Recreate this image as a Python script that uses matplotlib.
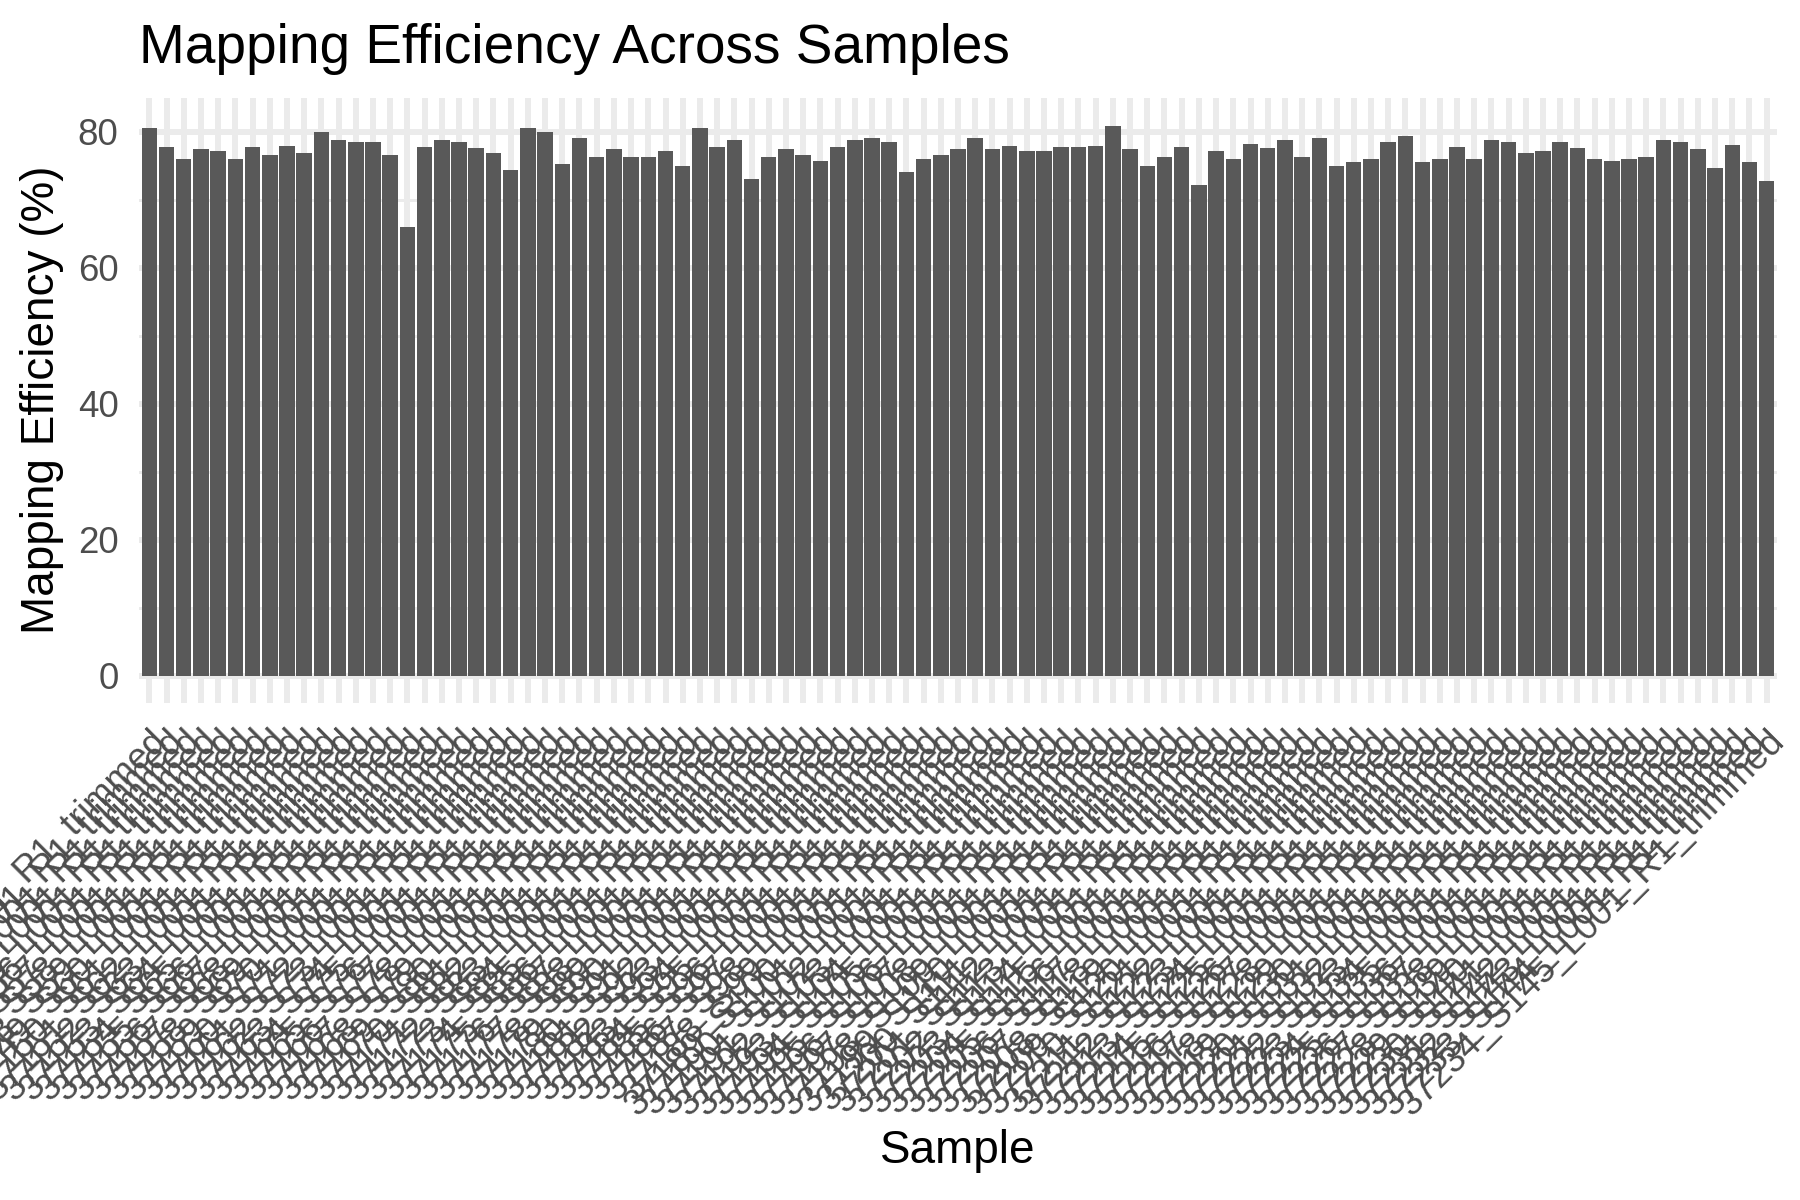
import matplotlib.pyplot as plt
from matplotlib.ticker import MultipleLocator

plt.rcParams['font.family'] = ['Liberation Sans', 'DejaVu Sans']

# mapping efficiency (%) per sample
efficiency = [
    80.6, 77.8, 75.9, 77.4, 77.2, 76.0, 77.8, 76.5, 77.9, 76.9,
    79.9, 78.8, 78.4, 78.5, 76.5, 65.9, 77.8, 78.8, 78.4, 77.6,
    76.9, 74.4, 80.6, 80.0, 75.3, 79.1, 76.2, 77.4, 76.3, 76.2,
    77.2, 75.0, 80.6, 77.8, 78.7, 73.1, 76.2, 77.5, 76.6, 75.7,
    77.8, 78.7, 79.0, 78.5, 74.0, 75.9, 76.5, 77.5, 79.1, 77.4,
    77.9, 77.2, 77.2, 77.8, 77.8, 77.9, 80.9, 77.5, 75.0, 76.3,
    77.8, 72.2, 77.1, 75.9, 78.2, 77.6, 78.8, 76.2, 79.1, 75.0,
    75.6, 76.0, 78.5, 79.4, 75.6, 75.9, 77.8, 75.9, 78.7, 78.4,
    76.8, 77.1, 78.5, 77.6, 75.9, 75.7, 75.9, 76.2, 78.8, 78.4,
    77.5, 74.7, 78.1, 75.6, 72.8,
]

samples = [
    "37140_S51_L001_R1_trimmed", "37141_S52_L001_R1_trimmed", "37142_S53_L001_R1_trimmed",
    "37143_S54_L001_R1_trimmed", "37144_S55_L001_R1_trimmed", "37145_S56_L001_R1_trimmed",
    "37146_S57_L001_R1_trimmed", "37147_S58_L001_R1_trimmed", "37148_S59_L001_R1_trimmed",
    "37149_S60_L001_R1_trimmed", "37150_S61_L001_R1_trimmed", "37151_S62_L001_R1_trimmed",
    "37152_S63_L001_R1_trimmed", "37153_S64_L001_R1_trimmed", "37154_S65_L001_R1_trimmed",
    "37155_S66_L001_R1_trimmed", "37156_S67_L001_R1_trimmed", "37157_S68_L001_R1_trimmed",
    "37158_S69_L001_R1_trimmed", "37159_S70_L001_R1_trimmed", "37160_S71_L001_R1_trimmed",
    "37161_S72_L001_R1_trimmed", "37162_S73_L001_R1_trimmed", "37163_S74_L001_R1_trimmed",
    "37164_S75_L001_R1_trimmed", "37165_S76_L001_R1_trimmed", "37166_S77_L001_R1_trimmed",
    "37167_S78_L001_R1_trimmed", "37168_S79_L001_R1_trimmed", "37169_S80_L001_R1_trimmed",
    "37170_S81_L001_R1_trimmed", "37171_S82_L001_R1_trimmed", "37172_S83_L001_R1_trimmed",
    "37173_S84_L001_R1_trimmed", "37174_S85_L001_R1_trimmed", "37175_S86_L001_R1_trimmed",
    "37176_S87_L001_R1_trimmed", "37177_S88_L001_R1_trimmed", "37178_S89_L001_R1_trimmed",
    "37179_S90_L001_R1_trimmed", "37180_S91_L001_R1_trimmed", "37181_S92_L001_R1_trimmed",
    "37182_S93_L001_R1_trimmed", "37183_S94_L001_R1_trimmed", "37184_S95_L001_R1_trimmed",
    "37185_S96_L001_R1_trimmed", "37186_S97_L001_R1_trimmed", "37187_S98_L001_R1_trimmed",
    "37188_S99_L001_R1_trimmed", "37189_S100_L001_R1_trimmed", "37190_S101_L001_R1_trimmed",
    "37191_S102_L001_R1_trimmed", "37192_S103_L001_R1_trimmed", "37193_S104_L001_R1_trimmed",
    "37194_S105_L001_R1_trimmed", "37195_S106_L001_R1_trimmed", "37196_S107_L001_R1_trimmed",
    "37197_S108_L001_R1_trimmed", "37198_S109_L001_R1_trimmed", "37199_S110_L001_R1_trimmed",
    "37200_S111_L001_R1_trimmed", "37201_S112_L001_R1_trimmed", "37202_S113_L001_R1_trimmed",
    "37203_S114_L001_R1_trimmed", "37204_S115_L001_R1_trimmed", "37205_S116_L001_R1_trimmed",
    "37206_S117_L001_R1_trimmed", "37207_S118_L001_R1_trimmed", "37208_S119_L001_R1_trimmed",
    "37209_S120_L001_R1_trimmed", "37210_S121_L001_R1_trimmed", "37211_S122_L001_R1_trimmed",
    "37212_S123_L001_R1_trimmed", "37213_S124_L001_R1_trimmed", "37214_S125_L001_R1_trimmed",
    "37215_S126_L001_R1_trimmed", "37216_S127_L001_R1_trimmed", "37217_S128_L001_R1_trimmed",
    "37218_S129_L001_R1_trimmed", "37219_S130_L001_R1_trimmed", "37220_S131_L001_R1_trimmed",
    "37221_S132_L001_R1_trimmed", "37222_S133_L001_R1_trimmed", "37223_S134_L001_R1_trimmed",
    "37224_S135_L001_R1_trimmed", "37225_S136_L001_R1_trimmed", "37226_S137_L001_R1_trimmed",
    "37227_S138_L001_R1_trimmed", "37228_S139_L001_R1_trimmed", "37229_S140_L001_R1_trimmed",
    "37230_S141_L001_R1_trimmed", "37231_S142_L001_R1_trimmed", "37232_S143_L001_R1_trimmed",
    "37233_S144_L001_R1_trimmed", "37234_S145_L001_R1_trimmed",
]

W, H = 1800, 1200
fig = plt.figure(figsize=(6, 4), dpi=300)
# panel placed like the ggplot output (pixel coords)
ax = fig.add_axes([139 / W, 1 - 703 / H, (1777 - 139) / W, (703 - 98) / H])

x = range(len(samples))
ax.bar(x, efficiency, width=0.9, color='#595959', zorder=2)

top = max(efficiency)
ax.set_xlim(-0.6, len(samples) - 1 + 0.6)
ax.set_ylim(-0.05 * top, top * 1.05)

ax.yaxis.set_major_locator(MultipleLocator(20))
ax.yaxis.set_minor_locator(MultipleLocator(10))
ax.set_xticks(list(x))
ax.set_xticklabels(samples, rotation=45, ha='right', va='top', rotation_mode='anchor')

ax.grid(True, which='major', color='#EBEBEB', linewidth=1.42, zorder=0)
ax.grid(True, which='minor', axis='y', color='#EBEBEB', linewidth=0.71, zorder=0)
ax.set_axisbelow(True)
for s in ax.spines.values():
    s.set_visible(False)

ax.tick_params(axis='both', which='both', length=0, labelsize=8.8, labelcolor='#4D4D4D')
ax.tick_params(axis='x', pad=4.9)
ax.tick_params(axis='y', pad=4.9)

fig.text(139 / W, 1 - 23 / H, "Mapping Efficiency Across Samples", fontsize=13.2,
         ha='left', va='top')
fig.text(42 / W, 1 - 400 / H, "Mapping Efficiency (%)", fontsize=11, rotation=90,
         ha='center', va='center')
fig.text(958 / W, 1 - 1151 / H, "Sample", fontsize=11, ha='center', va='center')

fig.savefig("out.png", dpi=300)
